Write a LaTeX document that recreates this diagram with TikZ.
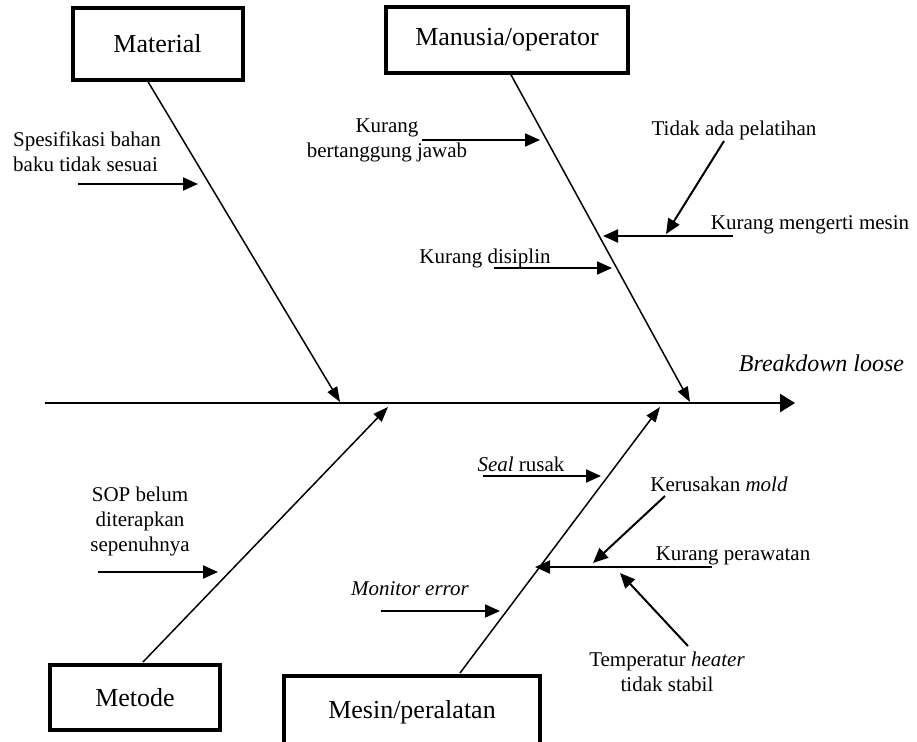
\documentclass[tikz,border=0pt]{standalone}
\usepackage{fontspec}
\setmainfont{Liberation Serif}
\usetikzlibrary{arrows.meta}
\begin{document}
\begin{tikzpicture}[x=1pt,y=-1pt,
  catbox/.style={draw,line width=4pt,minimum width=#1,minimum height=66pt,font=\fontsize{26}{30}\selectfont,inner sep=0pt},
  lbl/.style={font=\fontsize{21}{25}\selectfont,align=center,inner sep=0pt},
  bone/.style={line width=1.5pt,-{Triangle[length=15pt,width=11pt]}},
  cause/.style={line width=2pt,-{Triangle[length=15pt,width=13pt]}},
  plain/.style={line width=2pt}]
\useasboundingbox (0,0) rectangle (917,741);
% category boxes
\node[catbox=170pt,minimum height=72pt] (mat) at (157.5,44) {Material};
\node[catbox=242pt] (man) at (507,40) {Manusia/operator};
\node[catbox=170pt,minimum height=65pt] (met) at (135,697.5) {Metode};
\node[catbox=256pt,minimum height=72pt] (mes) at (412,712) {Mesin/peralatan};
% effect
\node[lbl,font=\fontsize{24}{28}\selectfont\itshape] (eff) at (821.5,363) {Breakdown loose};
% spine
\coordinate (sp0) at (45,403);
\coordinate (sp1) at (795,403);
\draw[line width=2.5pt,-{Triangle[length=15pt,width=18pt]}] (sp0) -- (sp1);
% bones
\coordinate (bm0) at (147,80);  \coordinate (bm1) at (340,402);
\coordinate (bo0) at (510,73);  \coordinate (bo1) at (690,402);
\coordinate (bt0) at (143,662); \coordinate (bt1) at (388,407);
\coordinate (bs0) at (460,673); \coordinate (bs1) at (660,407);
\draw[bone] (bm0) -- (bm1);
\draw[bone] (bo0) -- (bo1);
\draw[bone] (bt0) -- (bt1);
\draw[bone] (bs0) -- (bs1);
% labels
\node[lbl,align=left] (l1) at (87,152) {Spesifikasi bahan\\baku tidak sesuai};
\node[lbl] (l2) at (387,140) {Kurang\\bertanggung jawab};
\node[lbl] (l3) at (485,258) {Kurang disiplin};
\node[lbl] (l4) at (734,130) {Tidak ada pelatihan};
\node[lbl] (l5) at (810,225) {Kurang mengerti mesin};
\node[lbl] (l6) at (140,521) {SOP belum\\diterapkan\\sepenuhnya};
\node[lbl] (l7) at (521,464) {\textit{Seal} rusak};
\node[lbl] (l8) at (719,484) {Kerusakan \textit{mold}};
\node[lbl] (l9) at (733,556) {Kurang perawatan};
\node[lbl] (l10) at (667,672) {Temperatur \textit{heater}\\tidak stabil};
\node[lbl] (l11) at (410,589) {\textit{Monitor error}};
% cause arrows
\coordinate (a1s) at (78,184);  \coordinate (a1t) at (198,184);
\coordinate (a2s) at (422,140); \coordinate (a2t) at (540,140);
\coordinate (a3s) at (494,268); \coordinate (a3t) at (612,268);
\coordinate (a4s) at (724,141); \coordinate (a4t) at (666,234);
\coordinate (a5s) at (733,236); \coordinate (a5t) at (603,236);
\coordinate (a6s) at (98,572);  \coordinate (a6t) at (218,572);
\coordinate (a7s) at (483,476); \coordinate (a7t) at (601,476);
\coordinate (a8s) at (665,496); \coordinate (a8t) at (593,563);
\coordinate (a9s) at (712,567); \coordinate (a9t) at (535,567);
\coordinate (a10s) at (688,646); \coordinate (a10t) at (620,573);
\coordinate (a11s) at (381,611); \coordinate (a11t) at (500,611);
\foreach \i in {1,...,11} {\draw[cause] (a\i s) -- (a\i t);}
\end{tikzpicture}
\end{document}
